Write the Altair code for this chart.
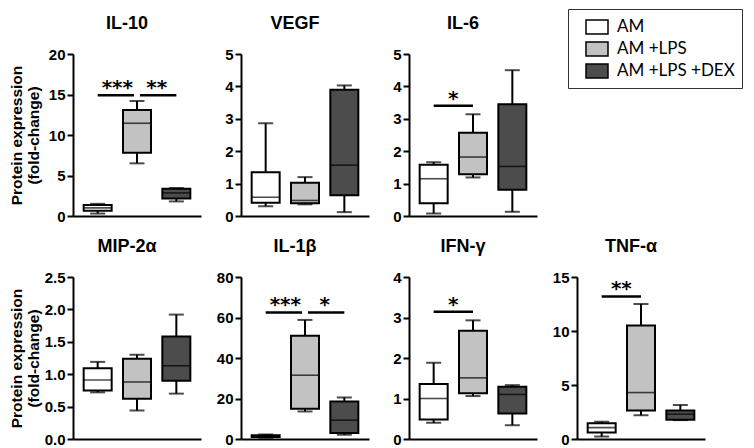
import altair as alt
import pandas as pd

groups = ["AM", "AM +LPS", "AM +LPS +DEX"]
fills = ["#ffffff", "#c2c2c2", "#4c4c4c"]

titles = ["IL-10", "VEGF", "IL-6", "MIP-2α", "IL-1β", "IFN-γ", "TNF-α"]
y_ticks = [
    [0, 5, 10, 15, 20],
    [0, 1, 2, 3, 4, 5],
    [0, 1, 2, 3, 4, 5],
    [0.0, 0.5, 1.0, 1.5, 2.0, 2.5],
    [0, 20, 40, 60, 80],
    [0, 1, 2, 3, 4],
    [0, 5, 10, 15],
]
y_formats = ["d", "d", "d", ".1f", "d", "d", "d"]

whisker_low = [
    [0.3, 6.5, 1.8],
    [0.3, 0.36, 0.12],
    [0.08, 1.19, 0.13],
    [0.72, 0.44, 0.70],
    [0.6, 13.6, 2.1],
    [0.40, 1.06, 0.34],
    [0.23, 2.2, 1.75],
]
q1 = [
    [0.65, 7.8, 2.15],
    [0.41, 0.39, 0.64],
    [0.39, 1.29, 0.81],
    [0.75, 0.62, 0.90],
    [1.0, 15.0, 3.0],
    [0.48, 1.13, 0.63],
    [0.6, 2.65, 1.78],
]
median = [
    [1.0, 11.45, 2.85],
    [0.58, 0.48, 1.57],
    [1.15, 1.82, 1.53],
    [0.91, 0.88, 1.13],
    [1.3, 31.5, 9.3],
    [1.0, 1.51, 1.10],
    [1.05, 4.3, 2.3],
]
q3 = [
    [1.35, 13.1, 3.35],
    [1.35, 1.03, 3.9],
    [1.58, 2.57, 3.45],
    [1.09, 1.24, 1.58],
    [1.8, 51.0, 18.5],
    [1.36, 2.67, 1.29],
    [1.45, 10.5, 2.65],
]
whisker_high = [
    [1.5, 14.2, 3.45],
    [2.86, 1.2, 4.03],
    [1.66, 3.14, 4.5],
    [1.19, 1.30, 1.92],
    [2.2, 58.8, 20.5],
    [1.88, 2.93, 1.33],
    [1.6, 12.5, 3.15],
]

sig_from = [["AM", "AM +LPS"], [], ["AM"], [], ["AM", "AM +LPS"], ["AM"], ["AM"]]
sig_to = [["AM +LPS", "AM +LPS +DEX"], [], ["AM +LPS"], [], ["AM +LPS", "AM +LPS +DEX"], ["AM +LPS"], ["AM +LPS"]]
sig_y = [[14.9, 14.9], [], [3.4], [], [62.5, 62.5], [3.14], [13.2]]
sig_text = [["***", "**"], [], ["*"], [], ["***", "*"], ["*"], ["**"]]

W, H = 128, 162
FONT = "Liberation Sans"

fill_scale = alt.Scale(domain=groups, range=fills)
legend = alt.Legend(
    title=None, orient="none", legendX=495, legendY=-45,
    symbolType="M-1.1,-0.7H1.1V0.7H-1.1Z", symbolSize=400,
    symbolStrokeColor="black", symbolStrokeWidth=1.5, symbolOpacity=1,
    labelFont="Lato", labelFontSize=17, labelColor="black", labelOffset=9,
    strokeColor="#333333", padding=7, symbolOffset=11, rowPadding=1,
)


def panel(i, first_col):
    df = pd.DataFrame({
        "group": groups,
        "idx": list(range(len(groups))),
        "lo": whisker_low[i], "q1": q1[i], "med": median[i],
        "q3": q3[i], "hi": whisker_high[i],
    })
    ticks = y_ticks[i]
    yscale = alt.Scale(domain=[ticks[0], ticks[-1]], nice=False, zero=True)
    axis_kw = dict(values=ticks, format=y_formats[i], grid=False)
    if first_col:
        axis_kw.update(title=["Protein expression", "(fold-change)"], titleX=-49,
                       titleY=H / 2, titleAngle=270, titleBaseline="bottom",
                       titleAlign="center", titleLineHeight=17, titleFontSize=15.5)
    else:
        axis_kw.update(title=None)
    yaxis = alt.Axis(**axis_kw)
    xscale = alt.Scale(domain=[-0.5, 2.5], nice=False, zero=False)
    xaxis = alt.Axis(title=None, labels=False, ticks=False, grid=False,
                     domainWidth=2, domainColor="black")

    def X(f="idx"):
        return alt.X(f + ":Q", scale=xscale, axis=xaxis)

    def Y(f):
        return alt.Y(f + ":Q", scale=yscale, axis=yaxis)

    base = alt.Chart(df)
    whisk = base.mark_rule(color="black", strokeWidth=2).encode(x=X(), y=Y("lo"), y2="hi:Q")
    cap_lo = base.mark_tick(color="black", size=15, thickness=2, orient="horizontal").encode(x=X(), y=Y("lo"))
    cap_hi = base.mark_tick(color="black", size=15, thickness=2, orient="horizontal").encode(x=X(), y=Y("hi"))
    box = base.mark_bar(size=28, stroke="black", strokeWidth=2, opacity=1).encode(
        x=X(), y=Y("q1"), y2="q3:Q",
        fill=alt.Fill("group:N", scale=fill_scale, legend=legend, sort=groups),
    )
    med = base.mark_tick(color="black", size=28, thickness=1.6, orient="horizontal").encode(x=X(), y=Y("med"))
    layers = [whisk, cap_lo, cap_hi, box, med]

    if sig_from[i]:
        sdf = pd.DataFrame({
            "i1": [groups.index(g) for g in sig_from[i]],
            "i2": [groups.index(g) for g in sig_to[i]],
            "y": sig_y[i], "label": sig_text[i],
        })
        sdf["mid"] = (sdf["i1"] + sdf["i2"]) / 2
        two = len(sdf) > 1
        sb = alt.Chart(sdf)
        r1 = sb.transform_filter("datum.i1 == 0").mark_rule(
            color="black", strokeWidth=2.5, x2Offset=-3 if two else 0
        ).encode(x=X("i1"), x2="i2:Q", y=Y("y"))
        layers.append(r1)
        if two:
            r2 = sb.transform_filter("datum.i1 != 0").mark_rule(
                color="black", strokeWidth=2.5, xOffset=3
            ).encode(x=X("i1"), x2="i2:Q", y=Y("y"))
            layers.append(r2)
        txt = sb.mark_text(font="DejaVu Sans", fontWeight="bold", fontSize=20,
                           baseline="alphabetic", dy=-1, color="black").encode(
            x=X("mid"), y=Y("y"), text="label:N")
        layers.append(txt)

    return alt.layer(*layers).properties(
        width=W, height=H,
        title=alt.TitleParams(titles[i], font=FONT, fontSize=18, fontWeight="bold",
                              color="black", anchor="middle", dx=-10, offset=0,
                              baseline="alphabetic"),
    )


blank = alt.Chart(pd.DataFrame({"v": [0]})).mark_point(opacity=0).encode(
    x=alt.X("v:Q", axis=None), y=alt.Y("v:Q", axis=None)
).properties(width=W, height=H)

cells = [panel(0, True), panel(1, False), panel(2, False), blank,
         panel(3, True), panel(4, False), panel(5, False), panel(6, False)]

chart = alt.concat(*cells, columns=4, spacing={"row": 61, "column": 40},
                   bounds="flush").properties(padding=0).configure(
    font=FONT
).configure_view(stroke="transparent").configure_axis(
    labelFont=FONT, labelFontSize=15, labelFontWeight="bold", labelColor="black",
    labelPadding=2, tickSize=6, tickWidth=2, tickColor="black",
    domainWidth=2, domainColor="black",
    titleFont=FONT, titleFontSize=17, titleFontWeight="bold", titleColor="black",
)

chart.save("out.html", embed_options={"renderer": "svg", "actions": False})
